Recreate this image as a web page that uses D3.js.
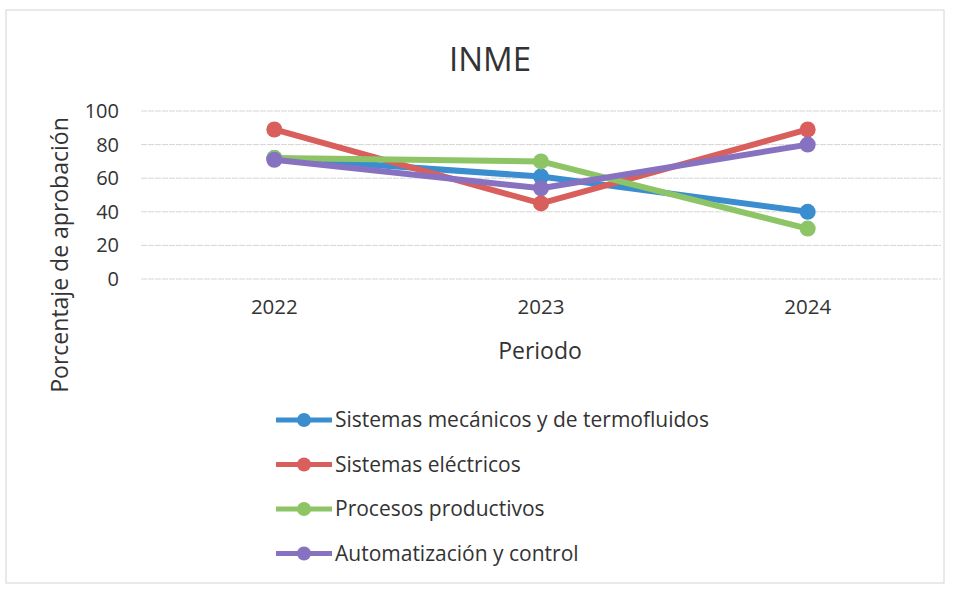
<!DOCTYPE html>
<html>
<head>
<meta charset="utf-8">
<script src="https://cdn.jsdelivr.net/npm/d3@7"></script>
<style>
  html, body { margin: 0; padding: 0; background: #fff; }
  svg { display: block; font-family: "Open Sans", Lato, sans-serif; }
</style>
</head>
<body>
<svg id="chart" width="954" height="589"></svg>
<script>
// Approval percentage per area, by period
const periods = ["2022", "2023", "2024"];
const seriesNames = [
  "Sistemas mecánicos y de termofluidos",
  "Sistemas eléctricos",
  "Procesos productivos",
  "Automatización y control"
];
const mecanicos = [72, 61, 40];
const electricos = [89, 45, 89];
const procesos = [72, 70, 30];
const automatizacion = [71, 54, 80];
const yTicks = [0, 20, 40, 60, 80, 100];
const colors = ["#3a8ecf", "#d95f5c", "#8dc466", "#8672c0"];

const series = [mecanicos, electricos, procesos, automatizacion].map((vals, i) => ({
  name: seriesNames[i],
  color: colors[i],
  points: vals.map((v, j) => ({ period: periods[j], value: v }))
}));

const svg = d3.select("#chart");
const font = "'Open Sans', Lato, sans-serif";

// Outer chart frame
svg.append("rect")
  .attr("x", 6).attr("y", 10).attr("width", 938).attr("height", 573)
  .attr("fill", "none").attr("stroke", "#d4d4d4").attr("stroke-width", 1);

const plot = { left: 141, right: 941, top: 111, bottom: 279 };

const x = d3.scaleBand().domain(periods).range([plot.left, plot.right]);
const y = d3.scaleLinear().domain([0, 100]).range([plot.bottom, plot.top]);

// Horizontal gridlines
svg.append("g")
  .selectAll("line")
  .data(yTicks)
  .join("line")
  .attr("x1", plot.left).attr("x2", plot.right)
  .attr("y1", d => y(d)).attr("y2", d => y(d))
  .attr("stroke", "#d6d6d6").attr("stroke-width", 1)
  .attr("stroke-dasharray", "6,1");

// Y axis labels
const yAxis = d3.axisLeft(y).tickValues(yTicks).tickSize(0).tickPadding(0);
const gy = svg.append("g").attr("transform", `translate(${plot.left - 22},0)`).call(yAxis);
gy.select(".domain").remove();
gy.selectAll("text")
  .attr("font-size", 20).attr("fill", "#333").attr("font-family", font);

// X axis labels
const xAxis = d3.axisBottom(x).tickSize(0).tickPadding(0);
const gx = svg.append("g").attr("transform", `translate(0,${plot.bottom + 20})`).call(xAxis);
gx.select(".domain").remove();
gx.selectAll("text")
  .attr("font-size", 20.5).attr("fill", "#333").attr("font-family", font);

// Title and axis titles
svg.append("text")
  .attr("x", 490).attr("y", 71).attr("text-anchor", "middle")
  .attr("font-size", 33).attr("fill", "#333").text("INME");

svg.append("text")
  .attr("x", 540).attr("y", 359).attr("text-anchor", "middle")
  .attr("font-size", 23).attr("fill", "#333").text("Periodo");

svg.append("text")
  .attr("transform", "translate(68,255) rotate(-90)")
  .attr("text-anchor", "middle")
  .attr("font-size", 23).attr("fill", "#333").text("Porcentaje de aprobación");

// Lines and markers
const cx = d => x(d.period) + x.bandwidth() / 2;
const line = d3.line().x(cx).y(d => y(d.value));

const gSeries = svg.append("g")
  .selectAll("g")
  .data(series)
  .join("g");

gSeries.append("path")
  .attr("d", d => line(d.points))
  .attr("fill", "none")
  .attr("stroke", d => d.color)
  .attr("stroke-width", 6)
  .attr("stroke-linejoin", "round");

gSeries.selectAll("circle")
  .data(d => d.points.map(p => ({ ...p, color: d.color })))
  .join("circle")
  .attr("cx", cx)
  .attr("cy", d => y(d.value))
  .attr("r", 8)
  .attr("fill", d => d.color);

// Legend
const legend = svg.append("g")
  .selectAll("g")
  .data(series)
  .join("g")
  .attr("transform", (d, i) => `translate(276,${420 + i * 44.5})`);

legend.append("line")
  .attr("x1", 0).attr("x2", 56).attr("y1", 0).attr("y2", 0)
  .attr("stroke", d => d.color).attr("stroke-width", 5);

legend.append("circle")
  .attr("cx", 28).attr("cy", 0).attr("r", 7)
  .attr("fill", d => d.color);

legend.append("text")
  .attr("x", 59).attr("y", 0).attr("dy", "0.35em")
  .attr("font-size", 21).attr("fill", "#333")
  .text(d => d.name);
</script>
</body>
</html>
